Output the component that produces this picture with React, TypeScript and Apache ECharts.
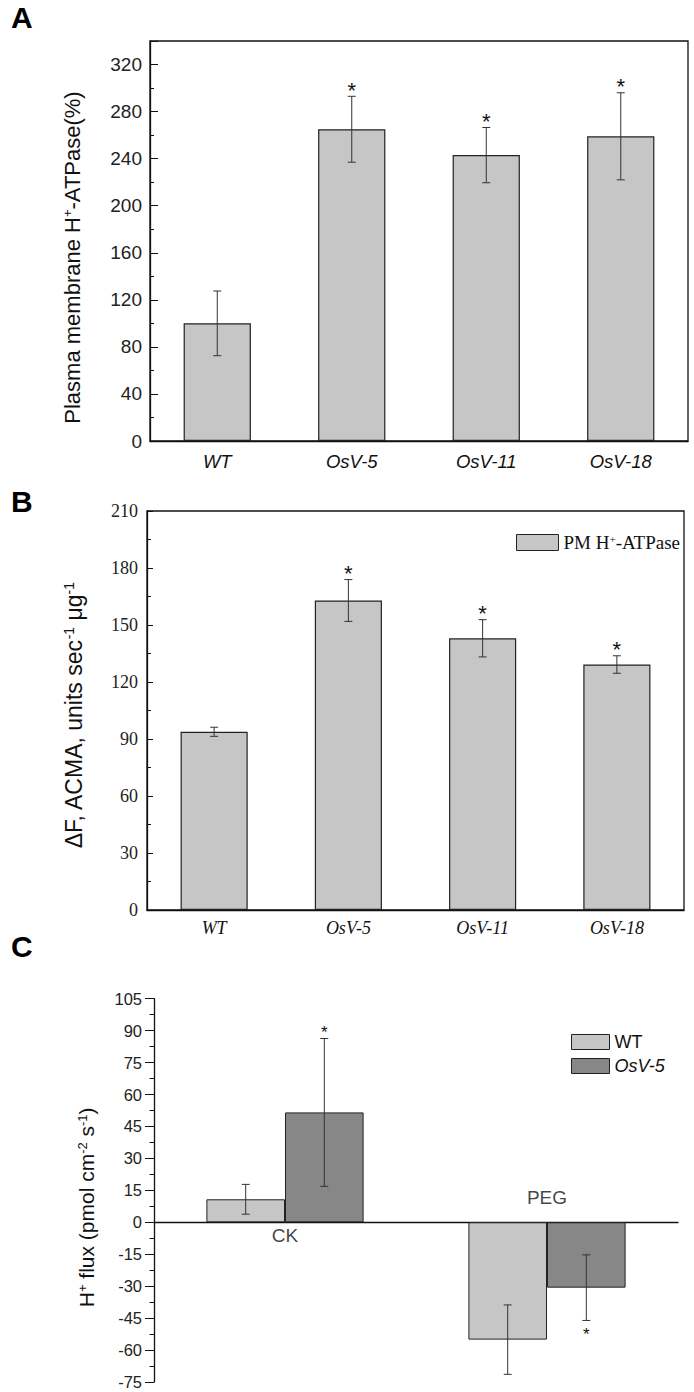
import React, { useEffect, useRef } from 'react';
import * as echarts from 'echarts';

const ARIAL = "'Liberation Sans', Arial, sans-serif";
const TIMES = "'Liberation Serif', 'Times New Roman', serif";

// Panel A
const linesA = ['WT', 'OsV-5', 'OsV-11', 'OsV-18'];
const valuesA = [100, 265, 243, 259];
const errorsA = [27.5, 28, 23.5, 37];
const sigA = [0, 1, 1, 1];

// Panel B
const linesB = ['WT', 'OsV-5', 'OsV-11', 'OsV-18'];
const valuesB = [93.8, 162.9, 143.0, 129.2];
const errorsB = [2.4, 11, 9.8, 4.6];
const sigB = [0, 1, 1, 1];

// Panel C
const treatmentsC = ['CK', 'PEG'];
const wtC = [10.8, -55.1];
const wtErrC = [7, 16.3];
const sigWtC = [0, 0];
const osvC = [51.6, -30.7];
const osvErrC = [34.7, 15.4];
const sigOsvC = [1, 1];

const errData = (vals: number[], errs: number[], sig: number[]) =>
  vals.map((v, i) => [i, v, errs[i], sig[i]]);

function errRender(offsetFrac: number, starSize: number, starGap: number) {
  return (params: any, api: any) => {
    const idx = api.value(0);
    const v = api.value(1);
    const e = api.value(2);
    const sig = api.value(3);
    const band = api.size([1, 0])[0];
    const hi = api.coord([idx, v + e]);
    const lo = api.coord([idx, v - e]);
    const x = hi[0] + offsetFrac * band;
    const cap = 4;
    const style = { stroke: '#333', lineWidth: 1 };
    const children: any[] = [
      { type: 'line', shape: { x1: x, y1: hi[1], x2: x, y2: lo[1] }, style },
      { type: 'line', shape: { x1: x - cap, y1: hi[1], x2: x + cap, y2: hi[1] }, style },
      { type: 'line', shape: { x1: x - cap, y1: lo[1], x2: x + cap, y2: lo[1] }, style },
    ];
    if (sig) {
      const neg = v < 0;
      const shift = starSize * 0.22;
      children.push({
        type: 'text',
        x,
        y: neg ? lo[1] + starGap + shift : hi[1] - starGap + shift,
        style: {
          text: '*',
          fontSize: starSize,
          fontFamily: ARIAL,
          fill: '#111',
          align: 'center',
          verticalAlign: 'middle',
        },
      });
    }
    return { type: 'group', children };
  };
}

const nameRich = (size: number, pad: number) => ({
  s: { fontSize: size, lineHeight: size, verticalAlign: 'top' },
  p: { width: pad },
});

export default function App() {
  const ref = useRef<HTMLDivElement>(null);
  useEffect(() => {
    if (!ref.current) return;
    const chart = echarts.init(ref.current, undefined, { renderer: 'svg' });
    const axisLine = { show: true, onZero: true, lineStyle: { color: '#111', width: 1.3 } };
    const letter = { fontFamily: ARIAL, fontSize: 30, fontWeight: 'bold', color: '#000' };
    const option: any = {
      animation: false,
      backgroundColor: '#fff',
      title: [
        { text: 'A', left: 6, top: -3, textStyle: letter },
        { text: 'B', left: 6, top: 481, textStyle: letter },
        { text: 'C', left: 6, top: 926, textStyle: letter },
      ],
      legend: [
        {
          data: ['PM H+-ATPase'],
          left: 511,
          top: 528,
          itemWidth: 42,
          itemHeight: 16,
          icon: 'rect',
          itemStyle: { borderColor: '#222', borderWidth: 1 },
          formatter: () => '{n|PM H}{s|+}{n|-ATPase}',
          textStyle: {
            fontFamily: TIMES,
            fontSize: 19,
            color: '#111',
            rich: { n: { fontFamily: TIMES, fontSize: 19 }, s: { fontFamily: TIMES, fontSize: 11, lineHeight: 11, verticalAlign: 'top' } },
          },
        },
        {
          data: ['WT', 'OsV-5'],
          left: 566,
          top: 1028,
          orient: 'vertical',
          itemWidth: 38,
          itemHeight: 15,
          itemGap: 6,
          icon: 'rect',
          itemStyle: { borderColor: '#222', borderWidth: 1 },
          formatter: (name: string) => (name === 'OsV-5' ? '{i|OsV-5}' : name),
          textStyle: {
            fontFamily: ARIAL,
            fontSize: 18,
            color: '#111',
            rich: { i: { fontFamily: ARIAL, fontSize: 18, fontStyle: 'italic' } },
          },
        },
      ],
      grid: [
        { left: 150, top: 41, width: 538, height: 400, show: true, borderColor: '#111', borderWidth: 1.3, backgroundColor: 'transparent' },
        { left: 147, top: 511, width: 537, height: 399, show: true, borderColor: '#111', borderWidth: 1.3, backgroundColor: 'transparent' },
        { left: 154, top: 998.7, width: 524, height: 383.3, show: false },
      ],
      xAxis: [
        {
          gridIndex: 0, type: 'category', data: linesA,
          axisLine, axisTick: { show: false },
          axisLabel: { fontFamily: ARIAL, fontSize: 18.5, fontStyle: 'italic', color: '#111', margin: 11 },
        },
        {
          gridIndex: 1, type: 'category', data: linesB,
          axisLine, axisTick: { show: false },
          axisLabel: { fontFamily: TIMES, fontSize: 18, fontStyle: 'italic', color: '#111', margin: 9 },
        },
        {
          gridIndex: 2, type: 'category', data: treatmentsC,
          axisLine, axisTick: { show: false }, axisLabel: { show: false },
        },
      ],
      yAxis: [
        {
          gridIndex: 0, type: 'value', min: 0, max: 340, interval: 40,
          name: 'Plasma membrane H{s|+}-ATPase(%){p|}', nameLocation: 'middle', nameGap: 67, nameRotate: 90,
          nameTextStyle: { fontFamily: ARIAL, fontSize: 22, color: '#111', rich: nameRich(13, 33) },
          axisLine, axisTick: { show: true, inside: true, length: 8, lineStyle: { color: '#111' } },
          minorTick: { show: true, splitNumber: 2, length: 4, lineStyle: { color: '#111' } },
          splitLine: { show: false },
          axisLabel: { fontFamily: ARIAL, fontSize: 19, color: '#222', margin: 8, showMaxLabel: false },
        },
        {
          gridIndex: 1, type: 'value', min: 0, max: 210, interval: 30,
          name: 'ΔF, ACMA, units sec{s|-1} μg{s|-1}{p|}', nameLocation: 'middle', nameGap: 62, nameRotate: 90,
          nameTextStyle: { fontFamily: ARIAL, fontSize: 23, color: '#111', rich: nameRich(14, 10) },
          axisLine, axisTick: { show: true, inside: true, length: 6, lineStyle: { color: '#111' } },
          minorTick: { show: true, splitNumber: 2, length: 4, lineStyle: { color: '#111' } },
          splitLine: { show: false },
          axisLabel: { fontFamily: TIMES, fontSize: 18, color: '#222', margin: 9 },
        },
        {
          gridIndex: 2, type: 'value', min: -75, max: 105, interval: 15,
          name: 'H{s|+} flux (pmol cm{s|-2} s{s|-1}){p|}', nameLocation: 'middle', nameGap: 57, nameRotate: 90,
          nameTextStyle: { fontFamily: ARIAL, fontSize: 21, color: '#111', rich: nameRich(13, 34) },
          axisLine: { show: true, lineStyle: { color: '#111', width: 1.3 } },
          axisTick: { show: true, inside: false, length: 9, lineStyle: { color: '#111' } },
          minorTick: { show: true, splitNumber: 2, length: 4.5, lineStyle: { color: '#111' } },
          splitLine: { show: false },
          axisLabel: { fontFamily: ARIAL, fontSize: 16.5, color: '#222', margin: 12 },
        },
      ],
      series: [
        {
          name: 'A', type: 'bar', xAxisIndex: 0, yAxisIndex: 0, data: valuesA, barWidth: '50%',
          itemStyle: { color: '#c6c6c6', borderColor: '#222', borderWidth: 1.2 },
        },
        {
          name: 'errA', type: 'custom', xAxisIndex: 0, yAxisIndex: 0, z: 5,
          data: errData(valuesA, errorsA, sigA), encode: { x: 0, y: 1 },
          renderItem: errRender(0, 22, 11),
        },
        {
          name: 'PM H+-ATPase', type: 'bar', xAxisIndex: 1, yAxisIndex: 1, data: valuesB, barWidth: '50%',
          itemStyle: { color: '#c6c6c6', borderColor: '#222', borderWidth: 1.2 },
        },
        {
          name: 'errB', type: 'custom', xAxisIndex: 1, yAxisIndex: 1, z: 5,
          data: errData(valuesB, errorsB, sigB), encode: { x: 0, y: 1 },
          renderItem: errRender(0, 22, 11),
        },
        {
          name: 'WT', type: 'bar', xAxisIndex: 2, yAxisIndex: 2, data: wtC, barWidth: '30%', barGap: '0%',
          itemStyle: { color: '#c6c6c6', borderColor: '#222', borderWidth: 1 },
        },
        {
          name: 'OsV-5', type: 'bar', xAxisIndex: 2, yAxisIndex: 2, data: osvC, barWidth: '30%', barGap: '0%',
          itemStyle: { color: '#878787', borderColor: '#222', borderWidth: 1 },
        },
        {
          name: 'errWT', type: 'custom', xAxisIndex: 2, yAxisIndex: 2, z: 5,
          data: errData(wtC, wtErrC, sigWtC), encode: { x: 0, y: 1 },
          renderItem: errRender(-0.15, 17, 10),
        },
        {
          name: 'errOsV', type: 'custom', xAxisIndex: 2, yAxisIndex: 2, z: 5,
          data: errData(osvC, osvErrC, sigOsvC), encode: { x: 0, y: 1 },
          renderItem: errRender(0.15, 17, 10),
        },
        {
          name: 'labelsC', type: 'scatter', xAxisIndex: 2, yAxisIndex: 2, symbolSize: 0, silent: true, z: 6,
          data: treatmentsC.map((t, i) => ({
            value: [i, 0],
            label: { show: true, position: i === 0 ? 'bottom' : 'top', distance: i === 0 ? 4 : 15, formatter: t },
          })),
          label: { fontFamily: ARIAL, fontSize: 19, color: '#111' },
        },
      ],
    };
    chart.setOption(option);
    return () => chart.dispose();
  }, []);
  return (
    <div
      ref={ref}
      style={{ position: 'absolute', left: 0, top: 0, width: 694, height: 1392, background: '#fff' }}
    />
  );
}
